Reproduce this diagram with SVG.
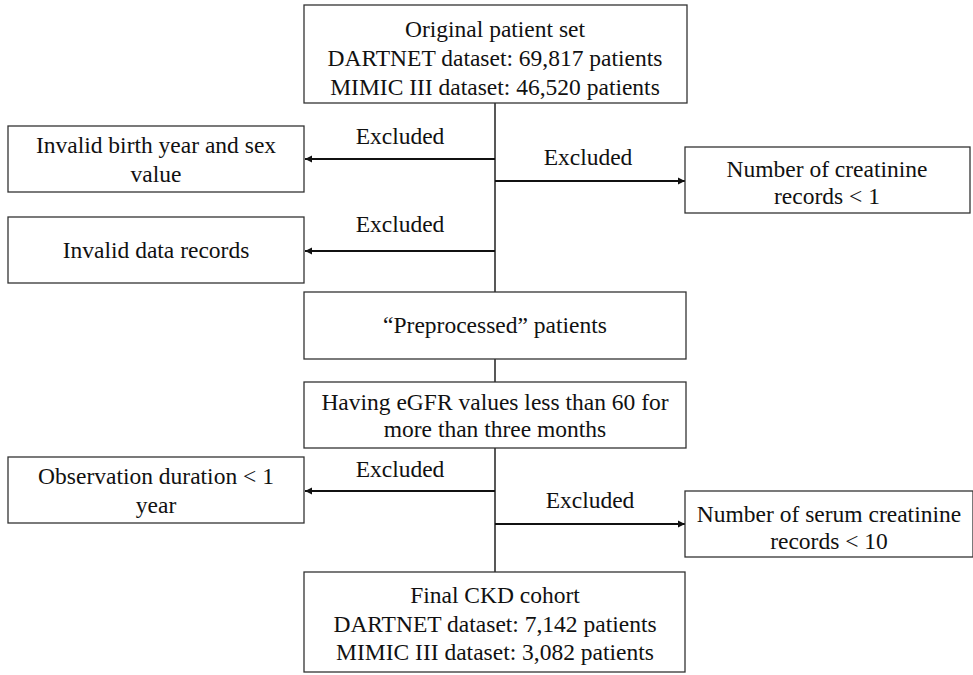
<svg xmlns="http://www.w3.org/2000/svg" width="973" height="675" viewBox="0 0 973 675">
<style>
rect{fill:#fff;stroke:#333;stroke-width:1.3}
text{font-family:"Liberation Serif","Times New Roman",serif;font-size:23.5px;fill:#111;text-anchor:middle}
.c{fill:none;stroke:#222;stroke-width:1.5}
.a{fill:none;stroke:#111;stroke-width:2.2;marker-end:url(#ah)}
</style>
<defs>
<marker id="ah" viewBox="0 0 10 10" refX="10" refY="5" markerWidth="3.2" markerHeight="3.2" orient="auto" markerUnits="strokeWidth">
<path d="M0,0 L10,5 L0,10 z" fill="#111"/>
</marker>
</defs>
<g id="connectors">
<path class="c" d="M495,103 V292 M495,359 V382 M495,448 V572"/>
<path class="a" d="M495,159 H305"/>
<path class="a" d="M495,181 H685"/>
<path class="a" d="M495,251 H305"/>
<path class="a" d="M495,491 H305"/>
<path class="a" d="M495,524 H685"/>
<text x="400" y="144">Excluded</text>
<text x="588" y="165">Excluded</text>
<text x="400" y="232">Excluded</text>
<text x="400" y="477">Excluded</text>
<text x="590" y="508">Excluded</text>
</g>
<g id="original">
<rect x="304" y="5" width="383" height="98"/>
<text x="495" y="37">Original patient set</text>
<text x="495" y="66">DARTNET dataset: 69,817 patients</text>
<text x="495" y="95">MIMIC III dataset: 46,520 patients</text>
</g>
<g id="invalid-birth">
<rect x="8" y="126" width="296" height="66"/>
<text x="156" y="153">Invalid birth year and sex</text>
<text x="156" y="182">value</text>
</g>
<g id="creatinine">
<rect x="685" y="147" width="285" height="66"/>
<text x="827" y="177">Number of creatinine</text>
<text x="827" y="204">records &lt; 1</text>
</g>
<g id="invalid-data">
<rect x="8" y="217" width="296" height="66"/>
<text x="156" y="258">Invalid data records</text>
</g>
<g id="preprocessed">
<rect x="304" y="292" width="382" height="67"/>
<text x="495" y="333">“Preprocessed” patients</text>
</g>
<g id="egfr">
<rect x="304" y="382" width="382" height="66"/>
<text x="495" y="410">Having eGFR values less than 60 for</text>
<text x="495" y="437">more than three months</text>
</g>
<g id="observation">
<rect x="8" y="457" width="296" height="66"/>
<text x="156" y="484">Observation duration &lt; 1</text>
<text x="156" y="513">year</text>
</g>
<g id="serum">
<rect x="685" y="491" width="288" height="66"/>
<text x="829" y="522">Number of serum creatinine</text>
<text x="829" y="549">records &lt; 10</text>
</g>
<g id="final">
<rect x="304" y="572" width="381" height="100"/>
<text x="495" y="603">Final CKD cohort</text>
<text x="495" y="632">DARTNET dataset: 7,142 patients</text>
<text x="495" y="660">MIMIC III dataset: 3,082 patients</text>
</g>
</svg>
